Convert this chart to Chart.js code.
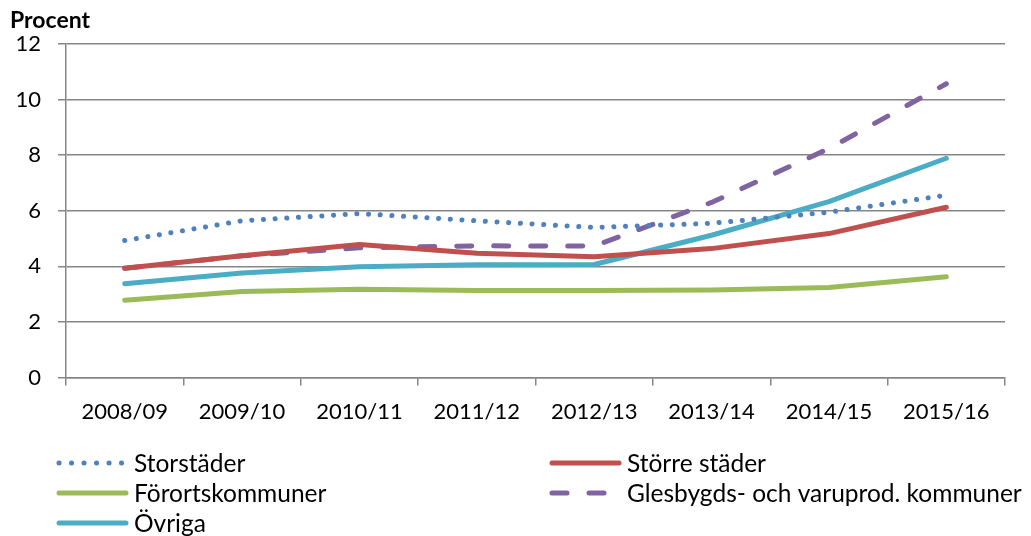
<!DOCTYPE html>
<html lang="sv">
<head>
  <meta charset="UTF-8" />
  <title>Procent</title>
  <script src="https://cdn.jsdelivr.net/npm/chart.js"></script>
  <style>
    html, body {
      margin: 0;
      padding: 0;
      background: #ffffff;
    }
    .wrap {
      width: 1031px;
      height: 536px;
      position: relative;
    }
  </style>
</head>
<body>
  <div class="wrap">
    <canvas id="chart" width="1031" height="536"></canvas>
  </div>

  <script>
    const years = ["2008/09", "2009/10", "2010/11", "2011/12", "2012/13", "2013/14", "2014/15", "2015/16"];

    const storstader = [4.93, 5.64, 5.9, 5.64, 5.4, 5.55, 5.95, 6.56];
    const storreStader = [3.93, 4.38, 4.79, 4.47, 4.35, 4.64, 5.18, 6.13];
    const forortskommuner = [2.78, 3.1, 3.18, 3.13, 3.13, 3.15, 3.24, 3.63];
    const glesbygd = [3.93, 4.38, 4.67, 4.74, 4.73, 6.3, 8.24, 10.57];
    const ovriga = [3.38, 3.76, 3.99, 4.06, 4.07, 5.12, 6.33, 7.89];

    const yTicks = [0, 2, 4, 6, 8, 10, 12];

    const fontFamily = "Lato, 'Open Sans', sans-serif";

    // legend drawn on the canvas, two columns like the original
    const legendPlugin = {
      id: "bottomLegend",
      afterDraw(chart) {
        const ctx = chart.ctx;
        const sets = chart.data.datasets;
        const cols = [57, 550];
        const rows = [463, 493, 523];
        ctx.save();
        ctx.font = "24.5px " + fontFamily;
        ctx.textBaseline = "middle";
        ctx.fillStyle = "#000";
        sets.forEach((ds, i) => {
          const x = cols[i % 2];
          const y = rows[Math.floor(i / 2)];
          const dash = ds.borderDash || [];
          ctx.beginPath();
          ctx.strokeStyle = ds.borderColor;
          ctx.lineWidth = ds.borderWidth;
          ctx.lineCap = "round";
          ctx.setLineDash(dash.length && dash[0] < 1 ? [0.1, 12.4] : dash);
          ctx.moveTo(x + 2, y);
          ctx.lineTo(x + 69, y);
          ctx.stroke();
          ctx.setLineDash([]);
          ctx.fillText(ds.label, x + 77, y + 1);
        });
        ctx.font = "bold 23px " + fontFamily;
        ctx.fillText("Procent", 10, 21);
        ctx.restore();
      }
    };

    function series(label, data, color, dash) {
      return {
        label: label,
        data: data,
        borderColor: color,
        backgroundColor: color,
        borderWidth: 5,
        borderDash: dash,
        borderCapStyle: "round",
        borderJoinStyle: "round",
        pointRadius: 0,
        tension: 0,
        fill: false
      };
    }

    new Chart(document.getElementById("chart").getContext("2d"), {
      type: "line",
      data: {
        labels: years,
        datasets: [
          series("Storstäder", storstader, "#4f81bd", [0.1, 11.6]),
          series("Större städer", storreStader, "#c0504d", []),
          series("Förortskommuner", forortskommuner, "#9bbb59", []),
          series("Glesbygds- och varuprod. kommuner", glesbygd, "#8064a2", [15, 22]),
          series("Övriga", ovriga, "#4bacc6", [])
        ]
      },
      options: {
        responsive: false,
        animation: false,
        layout: {
          padding: { top: 44, left: 0, right: 26, bottom: 98 }
        },
        plugins: {
          legend: { display: false },
          tooltip: { enabled: false }
        },
        scales: {
          x: {
            offset: true,
            grid: {
              offset: true,
              drawOnChartArea: false,
              color: "#868686",
              lineWidth: 1.5,
              tickLength: 8
            },
            border: { color: "#868686", width: 1.5 },
            ticks: {
              color: "#000",
              font: { family: fontFamily, size: 22 },
              padding: 13,
              maxRotation: 0
            }
          },
          y: {
            min: 0,
            max: 12,
            afterBuildTicks(axis) {
              axis.ticks = yTicks.map(v => ({ value: v }));
            },
            afterFit(axis) {
              axis.width = 66;
            },
            grid: {
              color: "#868686",
              lineWidth: 1.5,
              tickLength: 8
            },
            border: { color: "#868686", width: 1.5 },
            ticks: {
              color: "#000",
              font: { family: fontFamily, size: 22 },
              padding: 17
            }
          }
        }
      },
      plugins: [legendPlugin]
    });
  </script>
</body>
</html>
